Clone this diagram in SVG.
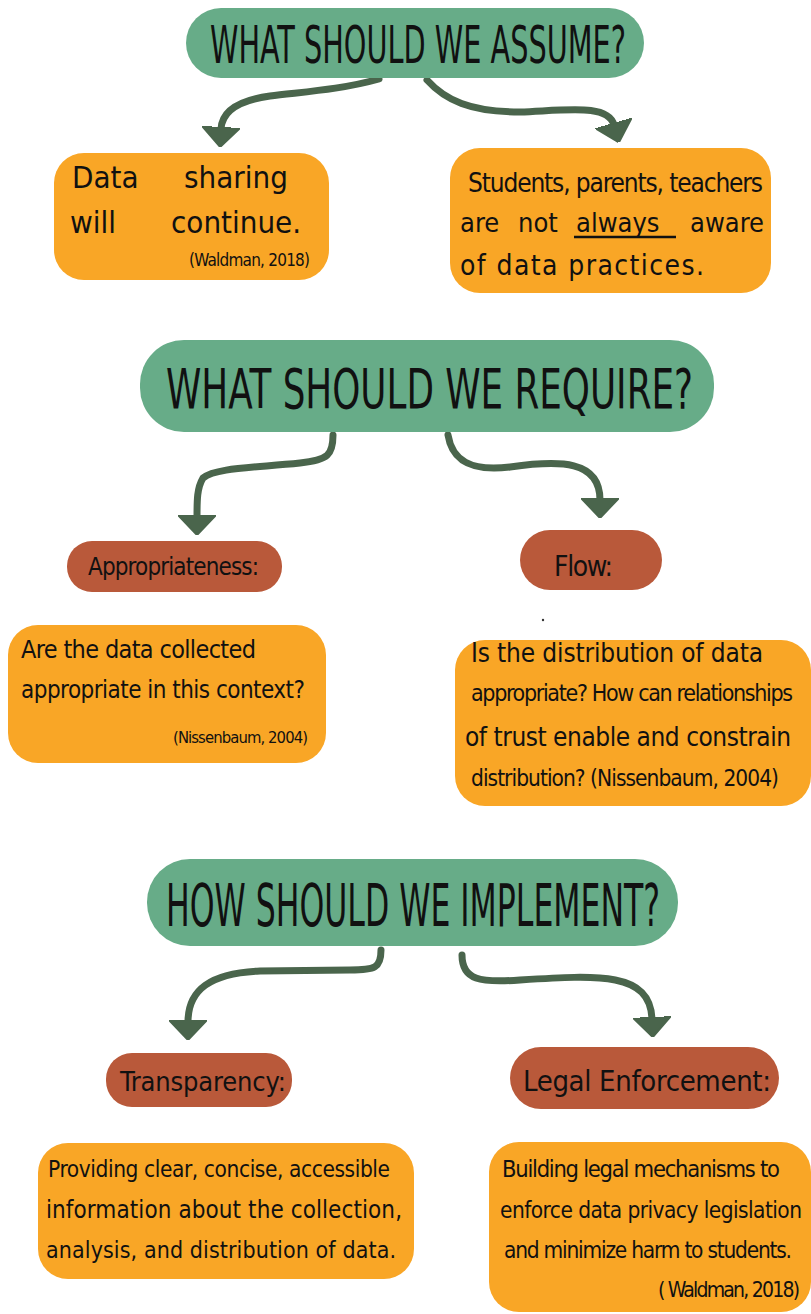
<svg xmlns="http://www.w3.org/2000/svg" width="811" height="1314" viewBox="0 0 811 1314">
<defs>
<style>
.green{fill:#67ac88}
.orange{fill:#f9a626}
.red{fill:#b9593a}
.h,.t,.c{font-family:"Liberation Sans Narrow","DejaVu Sans Condensed","Liberation Sans",sans-serif;fill:#111}
.conn{fill:none;stroke:#4a654c;stroke-width:7;stroke-linecap:round;marker-end:url(#head)}
</style>
<marker id="head" markerUnits="userSpaceOnUse" viewBox="0 0 20 38" markerWidth="20" markerHeight="38" refX="2" refY="19" orient="auto">
<path d="M0,0 L20,19 L0,38 z" fill="#4a654c" stroke="#4a654c" stroke-width="2" stroke-linejoin="round"/>
</marker>
</defs>
<rect width="811" height="1314" fill="#fff"/>

<g id="connectors">
<path class="conn" d="M379,79 C340,90 300,92 270,96 C240,100 222,110 221,129"/>
<path class="conn" d="M427,80 C445,100 470,112 520,112 C570,110 608,104 614,125"/>
<path class="conn" d="M333,435 C333,455 328,460 300,463 C250,468 215,468 203,478 C197,488 197,500 197,517"/>
<path class="conn" d="M448,435 C452,460 470,472 510,467 C560,460 600,460 600,500"/>
<path class="conn" d="M381,950 C381,968 375,970 350,970 L260,971 C210,973 188,990 188,1022"/>
<path class="conn" d="M462,955 C462,980 480,983 520,980 C600,975 650,972 652,1019"/>
</g>

<g id="assume">
<rect class="green" x="186" y="8" width="458" height="70" rx="35"/>
<text class="h" transform="translate(210,63) scale(1,1.8)" x="0" y="0" style="font-size:29px" textLength="416" lengthAdjust="spacingAndGlyphs">WHAT SHOULD WE ASSUME?</text>
</g>
<g id="data-sharing">
<rect class="orange" x="54" y="153" width="275" height="127" rx="30"/>
<text class="t" style="font-size:31px" y="188"><tspan x="72">Data</tspan><tspan x="184">sharing</tspan></text>
<text class="t" style="font-size:31px" y="233"><tspan x="70">will</tspan><tspan x="171">continue.</tspan></text>
<text class="c" style="font-size:17px" x="189" y="266" textLength="121" lengthAdjust="spacing">(Waldman, 2018)</text>
</g>
<g id="awareness">
<rect class="orange" x="450" y="148" width="321" height="145" rx="30"/>
<text class="t" style="font-size:26px" x="468" y="192" textLength="295" lengthAdjust="spacing">Students, parents, teachers</text>
<text class="t" style="font-size:27px" y="232"><tspan x="460">are</tspan><tspan x="518">not</tspan><tspan x="576">always</tspan><tspan x="690">aware</tspan></text>
<line x1="574" y1="237" x2="676" y2="237" stroke="#111" stroke-width="2.5"/>
<text class="t" style="font-size:28px" x="460" y="275" textLength="244" lengthAdjust="spacing">of data practices.</text>
</g>

<g id="require">
<rect class="green" x="140" y="340" width="574" height="92" rx="44"/>
<text class="h" transform="translate(166,408) scale(1,1.55)" x="0" y="0" style="font-size:35px" textLength="527" lengthAdjust="spacingAndGlyphs">WHAT SHOULD WE REQUIRE?</text>
</g>
<g id="appropriateness">
<rect class="red" x="67" y="541" width="215" height="51" rx="25"/>
<text class="t" style="font-size:24px" x="88" y="575" textLength="171" lengthAdjust="spacing">Appropriateness:</text>
</g>
<g id="flow">
<rect class="red" x="520" y="530" width="142" height="60" rx="30"/>
<text class="t" style="font-size:28px" x="554" y="576" textLength="59" lengthAdjust="spacing">Flow:</text>
</g>
<circle cx="543" cy="620" r="1.2" fill="#333"/>
<g id="appropriateness-question">
<rect class="orange" x="8" y="625" width="318" height="138" rx="30"/>
<text class="t" style="font-size:25px" x="21" y="658" textLength="235" lengthAdjust="spacing">Are the data collected</text>
<text class="t" style="font-size:24px" x="21" y="698" textLength="284" lengthAdjust="spacing">appropriate in this context?</text>
<text class="c" style="font-size:16.5px" x="173" y="743" textLength="135" lengthAdjust="spacing">(Nissenbaum, 2004)</text>
</g>
<g id="flow-question">
<rect class="orange" x="455" y="640" width="356" height="166" rx="30"/>
<text class="t" style="font-size:26px" x="471" y="662" textLength="292" lengthAdjust="spacing">Is the distribution of data</text>
<text class="t" style="font-size:23px" x="471" y="701" textLength="322" lengthAdjust="spacing">appropriate? How can relationships</text>
<text class="t" style="font-size:26px" x="465" y="746" textLength="326" lengthAdjust="spacing">of trust enable and constrain</text>
<text class="t" style="font-size:22.5px" x="471" y="786" textLength="308" lengthAdjust="spacing">distribution? (Nissenbaum, 2004)</text>
</g>

<g id="implement">
<rect class="green" x="147" y="859" width="531" height="87" rx="43"/>
<text class="h" transform="translate(166,926) scale(1,1.9)" x="0" y="0" style="font-size:31px" textLength="494" lengthAdjust="spacingAndGlyphs">HOW SHOULD WE IMPLEMENT?</text>
</g>
<g id="transparency">
<rect class="red" x="106" y="1053" width="186" height="54" rx="26"/>
<text class="t" style="font-size:27px" x="120" y="1091" textLength="166" lengthAdjust="spacing">Transparency:</text>
</g>
<g id="legal-enforcement">
<rect class="red" x="510" y="1047" width="269" height="62" rx="31"/>
<text class="t" style="font-size:29px" x="523" y="1091" textLength="248" lengthAdjust="spacing">Legal Enforcement:</text>
</g>
<g id="transparency-detail">
<rect class="orange" x="38" y="1143" width="376" height="136" rx="30"/>
<text class="t" style="font-size:22.5px" x="48" y="1177" textLength="342" lengthAdjust="spacing">Providing clear, concise, accessible</text>
<text class="t" style="font-size:24px" x="46" y="1218" textLength="356" lengthAdjust="spacing">information about the collection,</text>
<text class="t" style="font-size:23px" x="46" y="1258" textLength="350" lengthAdjust="spacing">analysis, and distribution of data.</text>
</g>
<g id="legal-detail">
<rect class="orange" x="489" y="1142" width="322" height="170" rx="30"/>
<text class="t" style="font-size:23.5px" x="502" y="1177" textLength="278" lengthAdjust="spacing">Building legal mechanisms to</text>
<text class="t" style="font-size:22.5px" x="500" y="1218" textLength="302" lengthAdjust="spacing">enforce data privacy legislation</text>
<text class="t" style="font-size:22.5px" x="504" y="1258" textLength="288" lengthAdjust="spacing">and minimize harm to students.</text>
<text class="t" style="font-size:21px" x="658" y="1297" textLength="142" lengthAdjust="spacing">( Waldman, 2018)</text>
</g>
</svg>
